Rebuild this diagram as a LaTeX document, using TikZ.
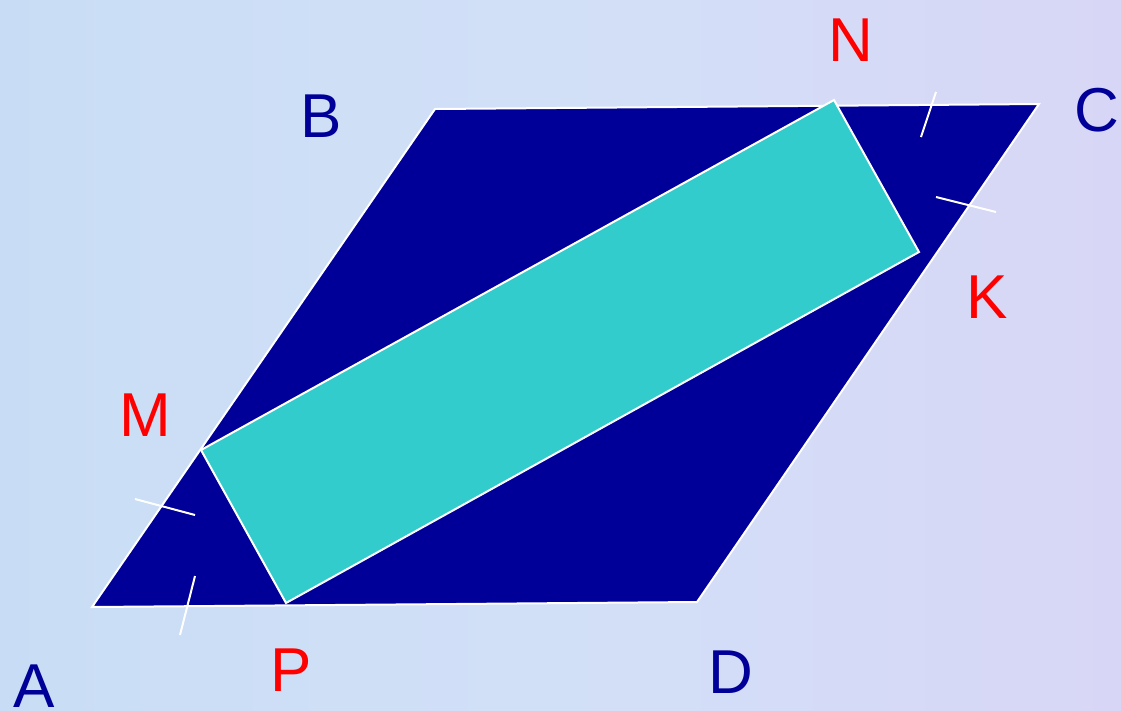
\documentclass[tikz,border=0pt]{standalone}
\usepackage{fontspec}
\setmainfont{Liberation Sans}
\definecolor{navy}{HTML}{000099}
\definecolor{teal2}{HTML}{33CCCC}
\definecolor{bgA}{HTML}{C8DDF5}
\definecolor{bgB}{HTML}{D8D6F6}
\definecolor{bgC}{HTML}{D2E0F7}
\begin{document}
\begin{tikzpicture}[x=1pt,y=-1pt,
  edge/.style={draw=white,line width=2pt,line join=miter},
  tick/.style={draw=white,line width=2pt},
  lblue/.style={text=navy,inner sep=0pt,font=\fontsize{62}{62}\selectfont},
  lred/.style={text=red,inner sep=0pt,font=\fontsize{62}{62}\selectfont}]
\useasboundingbox (0,0) rectangle (1121,710);
\shade[left color=bgA,right color=bgB,middle color=bgC] (0,0) rectangle (1121,710);
% vertices
\coordinate (A) at (92,607);
\coordinate (B) at (435,109);
\coordinate (C) at (1039,104);
\coordinate (D) at (697,602);
\coordinate (M) at (201,450);
\coordinate (N) at (834,100);
\coordinate (K) at (919,252);
\coordinate (P) at (286,603);
% tick ends
\coordinate (t1a) at (135,499); \coordinate (t1b) at (195,515);
\coordinate (t2a) at (195,576); \coordinate (t2b) at (180,635);
\coordinate (t3a) at (936,92);  \coordinate (t3b) at (921,137);
\coordinate (t4a) at (936,197); \coordinate (t4b) at (996,212);
\path[edge,fill=navy] (A) -- (B) -- (C) -- (D) -- cycle;
\path[edge,fill=teal2] (M) -- (N) -- (K) -- (P) -- cycle;
\draw[tick] (t1a) -- (t1b);
\draw[tick] (t2a) -- (t2b);
\draw[tick] (t3a) -- (t3b);
\draw[tick] (t4a) -- (t4b);
% labels
\node[lblue] (lA) at (34,686) {A};
\node[lblue] (lB) at (321,116) {B};
\node[lblue] (lC) at (1097,110) {C};
\node[lblue] (lD) at (731,672) {D};
\node[lred] (lN) at (851,40) {N};
\node[lred] (lK) at (987,297) {K};
\node[lred] (lM) at (145,415) {M};
\node[lred] (lP) at (291,670) {P};
\end{tikzpicture}
\end{document}
